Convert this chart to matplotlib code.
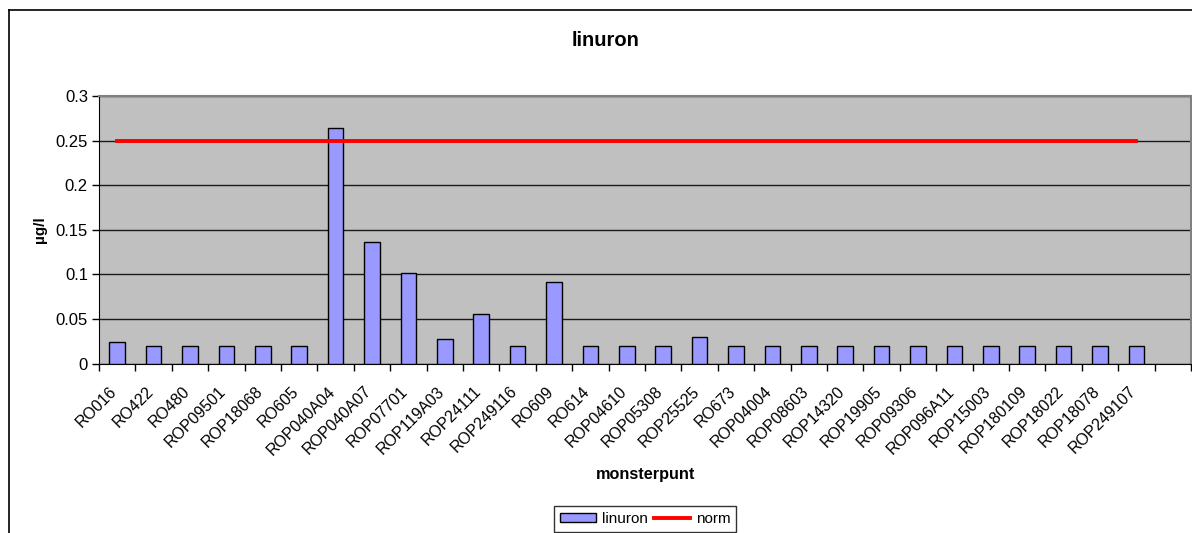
import matplotlib
matplotlib.use("Agg")
import matplotlib.pyplot as plt
import numpy as np
from matplotlib.lines import Line2D
from matplotlib.ticker import FixedLocator
from matplotlib.transforms import ScaledTranslation

plt.rcParams['font.family'] = ['Liberation Sans', 'DejaVu Sans']

categories = ["RO016", "RO422", "RO480", "ROP09501", "ROP18068", "RO605",
              "ROP040A04", "ROP040A07", "ROP07701", "ROP119A03", "ROP24111",
              "ROP249116", "RO609", "RO614", "ROP04610", "ROP05308", "ROP25525",
              "RO673", "ROP04004", "ROP08603", "ROP14320", "ROP19905", "ROP09306",
              "ROP096A11", "ROP15003", "ROP180109", "ROP18022", "ROP18078",
              "ROP249107"]
linuron = [0.024, 0.02, 0.02, 0.02, 0.02, 0.02,
           0.264, 0.136, 0.101, 0.028, 0.055,
           0.02, 0.091, 0.02, 0.02, 0.02, 0.03,
           0.02, 0.02, 0.02, 0.02, 0.02, 0.02,
           0.02, 0.02, 0.02, 0.02, 0.02, 0.02]
norm = [0.25] * len(categories)
yticks = [0, 0.05, 0.1, 0.15, 0.2, 0.25, 0.3]
ytick_labels = ['0', '0.05', '0.1', '0.15', '0.2', '0.25', '0.3']
n_slots = len(categories) + 1  # Excel axis shows one extra empty slot

W, H = 1192, 533
fig = plt.figure(figsize=(W/100, H/100), dpi=100)
ax = fig.add_axes([99/W, 1 - 363.5/H, (1191 - 99)/W, (363.5 - 96)/H])

x = np.arange(len(categories))
ax.set_facecolor('#C0C0C0')
bars = ax.bar(x, linuron, width=0.43, color='#9999FF', edgecolor='#000000',
              linewidth=1.0, zorder=3, label='linuron')
line, = ax.plot(x, norm, color='#FF0000', linewidth=2.8, zorder=4, label='norm')

ax.set_xlim(-0.5, n_slots - 0.5)
ax.set_ylim(0, 0.3)
ax.set_yticks(yticks)
ax.set_yticklabels(ytick_labels)
ax.grid(axis='y', color='#1a1a1a', linewidth=1.0, zorder=1)
ax.set_axisbelow(True)

ax.set_xticks(x)
ax.set_xticklabels(categories, rotation=45, ha='right', va='top',
                   rotation_mode='anchor', fontsize=11.5)
ax.tick_params(axis='x', which='major', length=0, pad=14.5)
offset = ScaledTranslation(-8/100, 0, fig.dpi_scale_trans)
for lab in ax.get_xticklabels():
    lab.set_transform(lab.get_transform() + offset)
ax.xaxis.set_minor_locator(FixedLocator(np.arange(-0.5, n_slots, 1.0)))
ax.tick_params(axis='x', which='minor', length=5, width=1, color='#000000')
ax.tick_params(axis='y', length=5, width=1, labelsize=12, pad=3)

for side in ['top', 'right']:
    ax.spines[side].set_color('#808080')
    ax.spines[side].set_linewidth(1.5)
ax.spines['left'].set_color('#000000')
ax.spines['bottom'].set_color('#000000')

fig.text(40/W, 1 - 230/H, 'µg/l', rotation=90, fontsize=11, fontweight='bold',
         ha='center', va='center')
fig.text(646/W, 1 - 475/H, 'monsterpunt', fontsize=11.7, fontweight='bold',
         ha='center', va='center')
fig.text(606/W, 1 - 41/H, 'linuron', fontsize=14.5, fontweight='bold',
         ha='center', va='center')

# outer chart frame (partly outside the image)
fig.add_artist(Line2D([9/W, 1.0], [1 - 10/H, 1 - 10/H], color='#000000', linewidth=1.2))
fig.add_artist(Line2D([9/W, 9/W], [0, 1 - 10/H], color='#000000', linewidth=1.2))

leg = fig.legend([bars, line], ['linuron', 'norm'], loc='upper center',
                 bbox_to_anchor=(645/W, 1 - 506/H), ncol=2,
                 frameon=True, fancybox=False, edgecolor='#000000', fontsize=11,
                 handlelength=2.4, handleheight=0.55, handletextpad=0.35,
                 columnspacing=0.4, borderpad=0.4, borderaxespad=0)
leg.get_frame().set_linewidth(1.0)

fig.savefig('out.png', dpi=100)
